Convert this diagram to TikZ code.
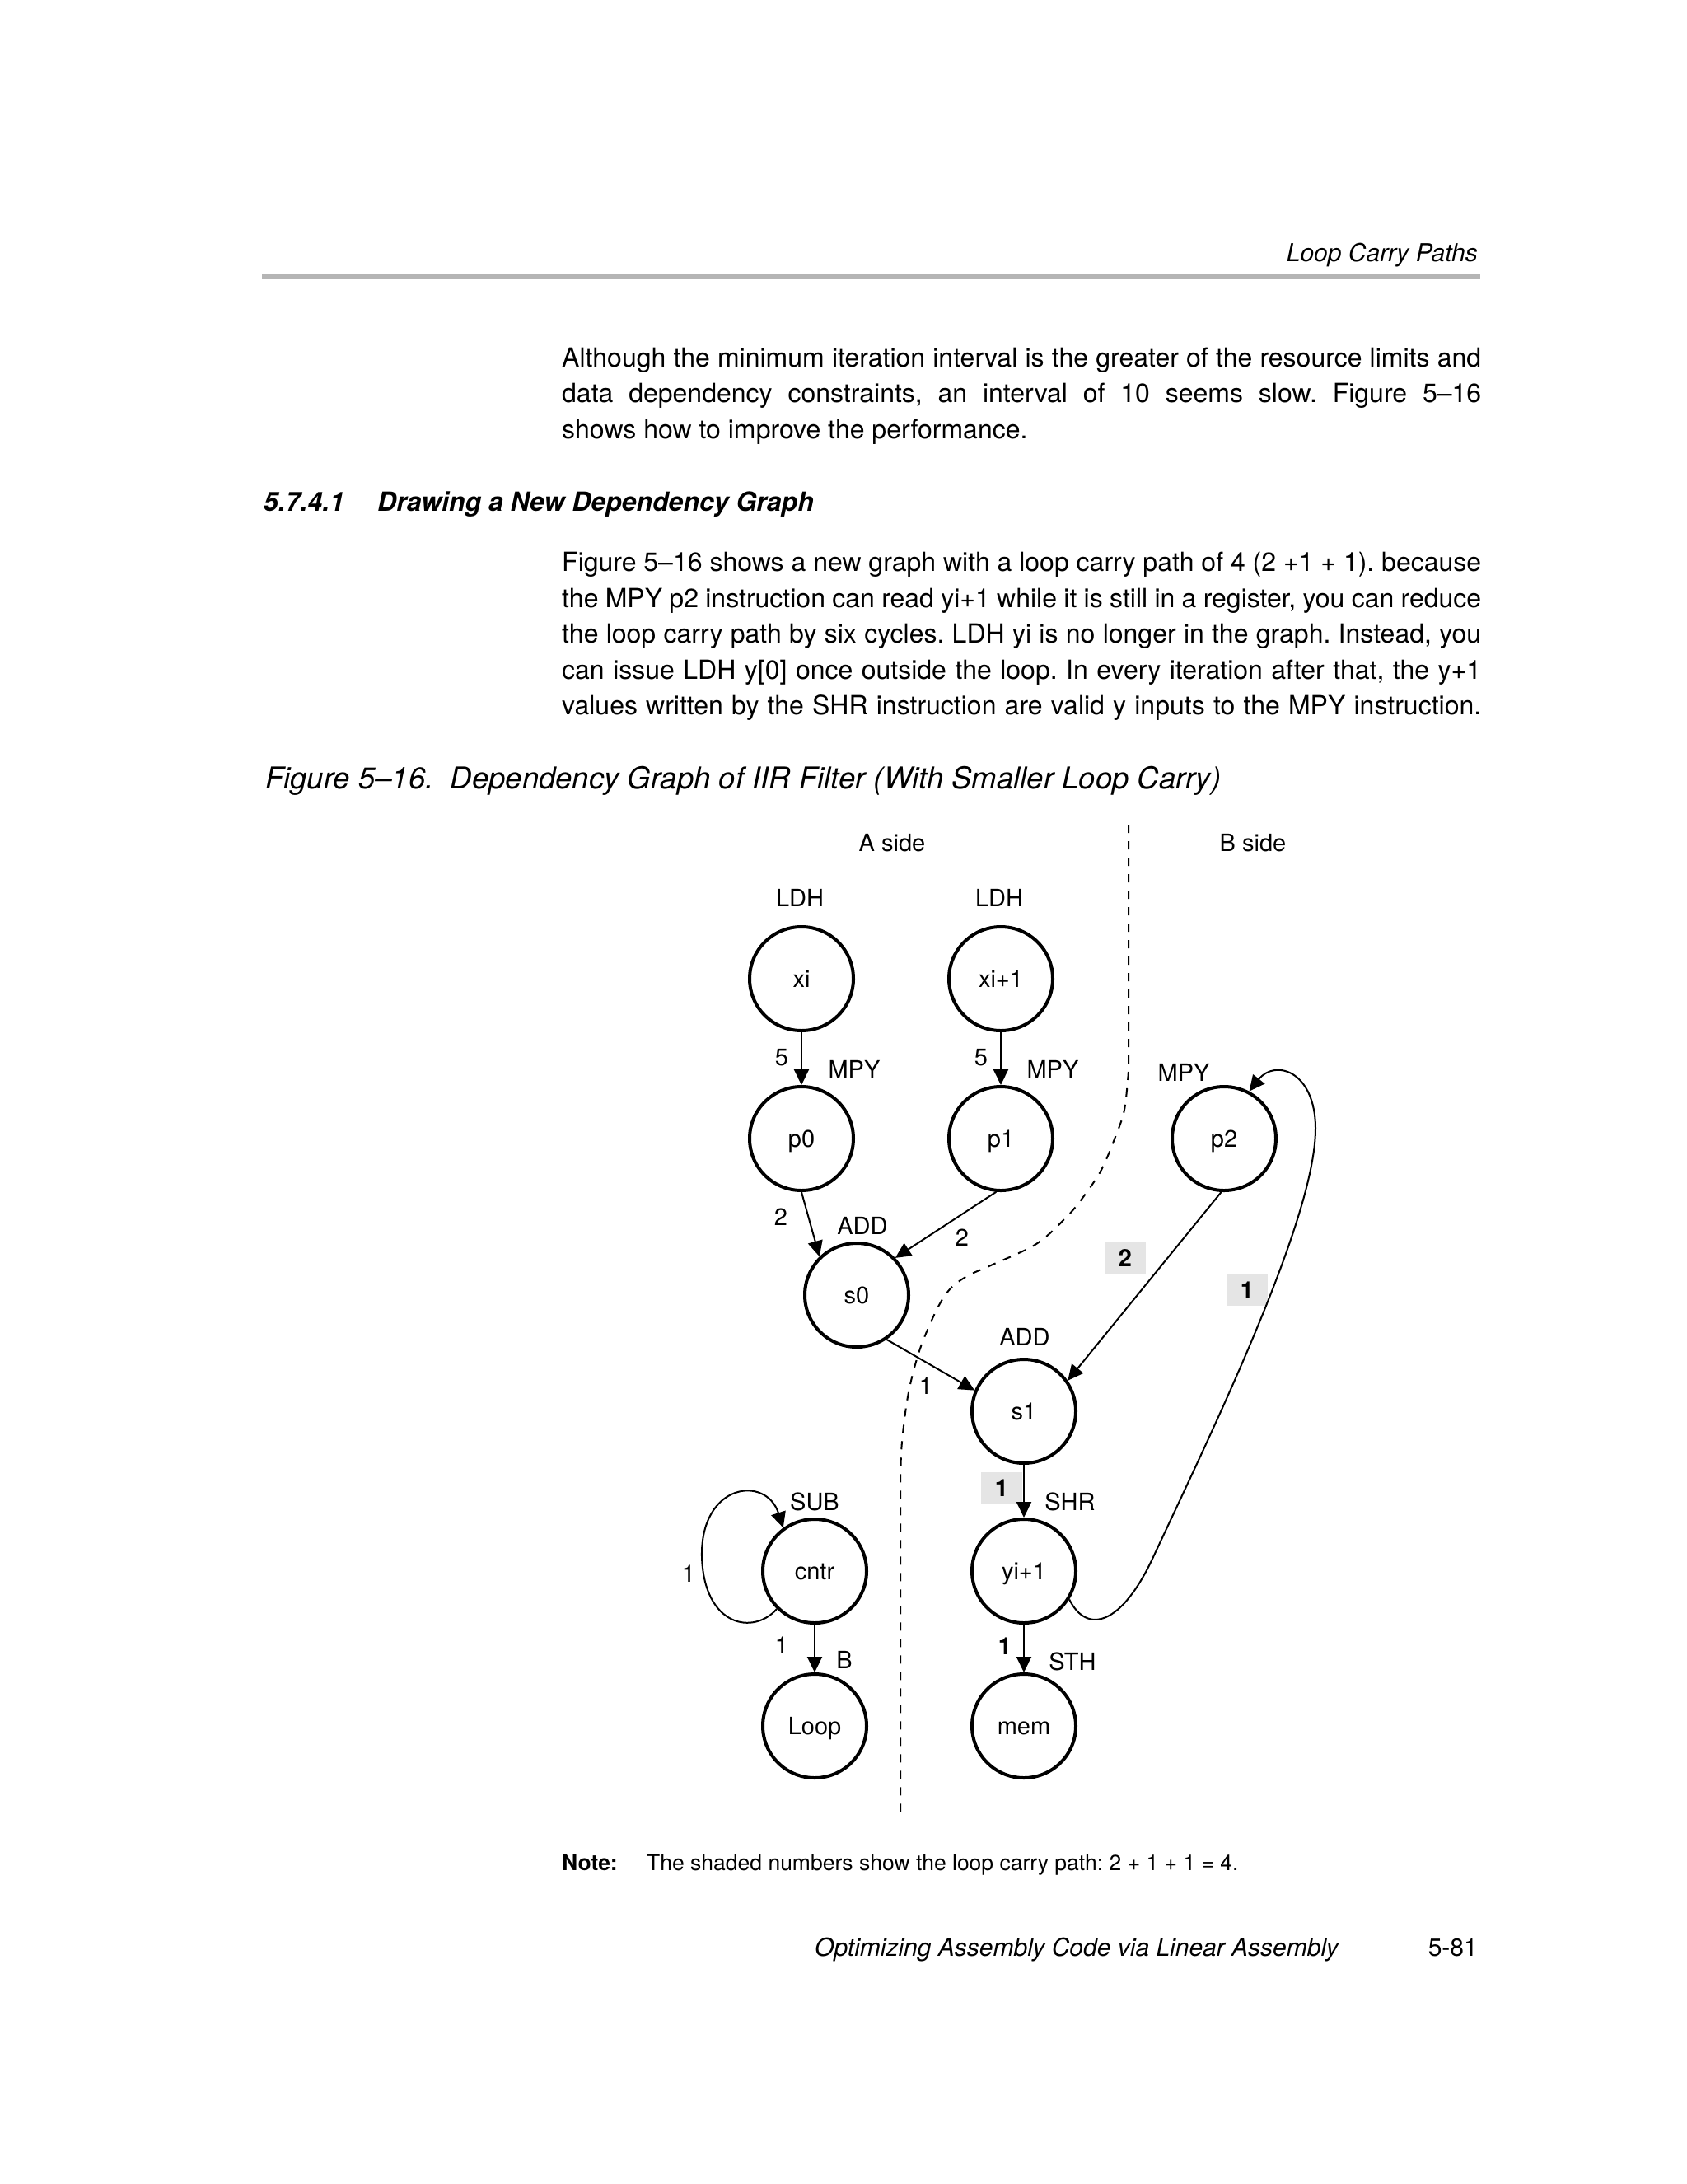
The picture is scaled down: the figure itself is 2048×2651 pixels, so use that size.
\documentclass[tikz,border=0pt]{standalone}
\usepackage{fontspec}
\setmainfont{TeX Gyre Heros}
\usetikzlibrary{arrows.meta}
\definecolor{rulegray}{gray}{0.71}
\definecolor{shadegray}{gray}{0.9}
\frenchspacing
\begin{document}
\frenchspacing
\begin{tikzpicture}[x=1pt,y=-1pt,
  every node/.style={inner sep=0pt},
  gnode/.style={circle, draw, line width=4pt, minimum size=126pt, text height=21pt, text depth=0pt, font=\fontsize{29}{34}\selectfont},
  lbl/.style={text height=21pt, text depth=0pt, font=\fontsize{29}{34}\selectfont},
  shd/.style={fill=shadegray, minimum width=50pt, minimum height=38pt, text height=21pt, text depth=0pt, font=\fontsize{29}{34}\selectfont\bfseries},
  edge/.style={line width=2pt, -{Triangle[length=19pt,width=18pt]}},
  body/.style={anchor=base west, font=\fontsize{32}{43}\selectfont},
  divider/.style={line width=2pt, dash pattern=on 10pt off 10pt},
]
\useasboundingbox[fill=white] (0,0) rectangle (2048,2651);

% header
\node[anchor=base east, font=\fontsize{30}{34}\selectfont\itshape] (hdr) at (1794,317) {Loop Carry Paths};
\fill[rulegray] (318,332) rectangle (1797,339);

% paragraph 1
\node[body] (t1) at (682,445) {\makebox[1116pt][s]{Although the minimum iteration interval is the greater of the resource limits and}};
\node[body] (t2) at (682,488) {\makebox[1116pt][s]{data dependency constraints, an interval of 10 seems slow. Figure 5–16}};
\node[body] (t3) at (682,532) {shows how to improve the performance.};

% heading
\node[anchor=base west, font=\fontsize{32}{38}\selectfont\bfseries\itshape] (h1) at (320,620) {5.7.4.1};
\node[anchor=base west, font=\fontsize{32}{38}\selectfont\bfseries\itshape] (h2) at (458,620) {Drawing a New Dependency Graph};

% paragraph 2
\node[body] (u1) at (682,693) {\makebox[1116pt][s]{Figure 5–16 shows a new graph with a loop carry path of 4 (2 +1 + 1). because}};
\node[body] (u2) at (682,737) {\makebox[1116pt][s]{the MPY p2 instruction can read yi+1 while it is still in a register, you can reduce}};
\node[body] (u3) at (682,780) {\makebox[1116pt][s]{the loop carry path by six cycles. LDH yi is no longer in the graph. Instead, you}};
\node[body] (u4) at (682,824) {\makebox[1116pt][s]{can issue LDH y[0] once outside the loop. In every iteration after that, the y+1}};
\node[body] (u5) at (682,867) {\makebox[1116pt][s]{values written by the SHR instruction are valid y inputs to the MPY instruction.}};

% caption
\node[anchor=base west, font=\fontsize{36.5}{41}\selectfont\itshape] (cap) at (322,957) {Figure 5–16.\ \ Dependency Graph of IIR Filter (With Smaller Loop Carry)};

% divider
\draw[divider] (1370,1001) -- (1370,1300) -- plot[smooth, tension=0.55] coordinates {(1370,1300) (1365,1347) (1354,1380) (1337,1420) (1315,1453) (1294,1478) (1258,1510) (1205,1535) (1174,1549) (1153,1565) (1137,1590) (1117,1637) (1103,1690) (1095,1750) (1093,1800)} -- (1093,2200);

% side labels
\node[lbl] (la) at (1083,1023) {A side};
\node[lbl] (lb) at (1521,1023) {B side};

% shaded latency boxes (drawn below connectors)
\node[shd] (c1) at (1366,1527) {2};
\node[shd] (c2) at (1514,1566) {1};
\node[shd] (c3) at (1216,1806) {1};

% graph nodes
\node[gnode] (xi) at (973,1188) {xi};
\node[gnode] (xip) at (1215,1188) {xi+1};
\node[gnode] (p0) at (973,1382) {p0};
\node[gnode] (p1) at (1215,1382) {p1};
\node[gnode] (p2) at (1486,1382) {p2};
\node[gnode] (s0) at (1040,1572) {s0};
\node[gnode] (s1) at (1243,1713) {s1};
\node[gnode] (cntr) at (989,1907) {cntr};
\node[gnode] (yi) at (1243,1907) {yi+1};
\node[gnode] (loop) at (989,2095) {Loop};
\node[gnode] (mem) at (1243,2095) {mem};

% instruction labels
\node[lbl] (ldh1) at (971,1090) {LDH};
\node[lbl] (ldh2) at (1213,1090) {LDH};
\node[lbl] (mpy1) at (1037,1298) {MPY};
\node[lbl] (mpy2) at (1278,1298) {MPY};
\node[lbl] (mpy3) at (1437,1302) {MPY};
\node[lbl] (add1) at (1047,1488) {ADD};
\node[lbl] (add2) at (1244,1623) {ADD};
\node[lbl] (sub) at (989,1823) {SUB};
\node[lbl] (shr) at (1299,1823) {SHR};
\node[lbl] (br) at (1025,2015) {B};
\node[lbl] (sth) at (1302,2017) {STH};

% edges
\draw[edge] (xi) -- (p0);
\draw[edge] (xip) -- (p1);
\draw[edge] (p0.south) -- (s0.134);
\draw[edge] (p1.-95) -- (s0.44);
\draw[edge] (s0.-56) -- (s1.157);
\draw[edge] (p2.-93) -- (s1.35);
\draw[edge] (s1) -- (yi);
\draw[edge] (yi) -- (mem);
\draw[edge] (cntr) -- (loop);
\draw[edge] (cntr.225) .. controls (915,1985) and (855,1975) .. (852,1890) .. controls (850,1800) and (930,1790) .. (cntr.126);
\draw[edge] (yi.-32) .. controls (1320,1985) and (1362,1972) .. (1400,1890) .. controls (1470,1740) and (1597,1480) .. (1597,1370) .. controls (1597,1300) and (1548,1285) .. (p2.62);

% latency labels
\node[lbl] (w1) at (949,1283) {5};
\node[lbl] (w2) at (1191,1283) {5};
\node[lbl] (w3) at (948,1477) {2};
\node[lbl] (w4) at (1168,1502) {2};
\node[lbl] (w5) at (1124,1682) {1};
\node[lbl] (w6) at (836,1910) {1};
\node[lbl] (w7) at (949,1997) {1};
\node[lbl, font=\fontsize{29}{34}\selectfont\bfseries] (w8) at (1220,1998) {1};

% note
\node[anchor=base west, font=\fontsize{26.5}{32}\selectfont\bfseries] (nt) at (682,2270) {Note:};
\node[anchor=base west, font=\fontsize{26.5}{32}\selectfont] (ntx) at (785,2270) {The shaded numbers show the loop carry path: 2 + 1 + 1 = 4.};

% footer
\node[anchor=base east, font=\fontsize{30}{36}\selectfont\itshape] (ft) at (1625,2374) {Optimizing Assembly Code via Linear Assembly};
\node[anchor=base east, font=\fontsize{30}{36}\selectfont] (pg) at (1794,2374) {5-81};
\end{tikzpicture}
\end{document}
